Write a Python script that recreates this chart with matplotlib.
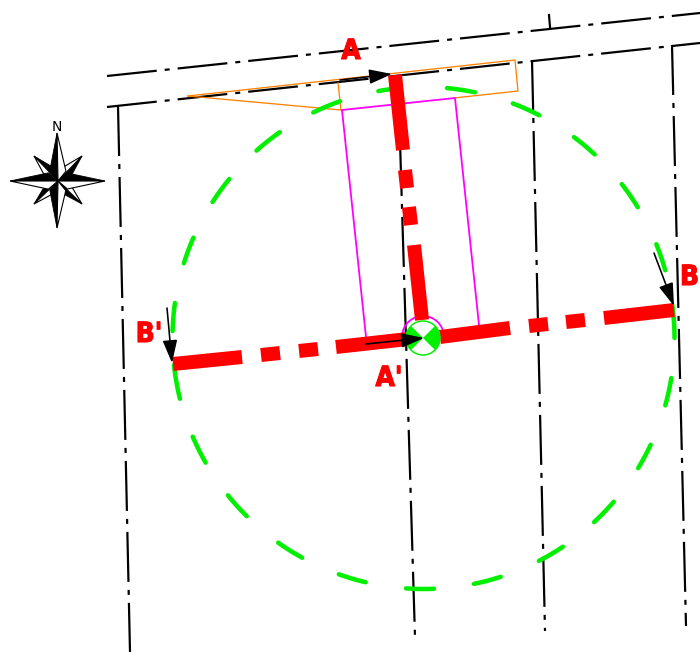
import numpy as np
import matplotlib
matplotlib.use("Agg")
import matplotlib.pyplot as plt
import matplotlib.patheffects as pe
from matplotlib.patches import Wedge, Circle, Arc, Polygon

# everything in pixels
road_lines = [
    ((107, 76), (700, 13)),
    ((107, 107), (700, 43)),
    ((118, 106), (130, 652)),
    ((398, 75), (415, 637)),
    ((532, 60), (545, 631)),
    ((672, 45), (686, 626)),
]
tick_line = ((549, 15), (550, 27))

orange_lines = [
    [(188, 96), (515, 60), (518, 91), (454, 98)],
    [(338, 83), (341, 110)],
    [(188, 96), (341, 110)],
]
magenta_lines = [
    [(366, 337), (342, 110), (455, 98), (479, 325)],
]

red_dashes = [
    ((395, 75), (403, 150)), ((405, 170), (407, 188)),
    ((409, 207), (411, 225)), ((414, 245), (422, 320)),
    ((173, 364), (242, 357)), ((261, 355), (280, 353)),
    ((299, 351), (318, 349)), ((336, 347), (408, 339)),
    ((440, 337), (510, 328)), ((529, 326), (548, 324)),
    ((566, 322), (585, 320)), ((604, 318), (674, 310)),
]

circle_center = (423.5, 338)
circle_radius = 251
green_dashes = [
    ((313, 112), (340, 101)), ((378, 89), (393, 88)), ((447, 88), (475, 92)),
    ((513, 103), (540, 114)), ((574, 137), (596, 153)), ((622, 184), (638, 207)),
    ((657, 244), (666, 270)), ((673, 305), (676, 338)), ((671, 378), (664, 405)),
    ((651, 445), (638, 468)), ((614, 502), (594, 522)), ((563, 547), (539, 561)),
    ((501, 578), (474, 584)), ((434, 589), (406, 589)), ((366, 581), (339, 574)),
    ((302, 558), (278, 543)), ((246, 517), (227, 496)), ((205, 463), (192, 437)),
    ((179, 399), (174, 365)), ((172, 331), (175, 303)), ((183, 263), (192, 237)),
    ((211, 201), (228, 178)), ((256, 150), (279, 131)),
]

arrows = [
    ((340, 80), (392, 74)),
    ((366, 344), (424, 338)),
    ((654, 253), (674, 306)),
    ((167, 308), (172, 363)),
]

labels = ["A", "A'", "B", "B'"]
label_x = [351, 389, 699, 149]
label_y = [51, 378, 277, 334]
label_ha = ["center", "center", "right", "center"]

well_x, well_y = 423, 338

star_center = (58, 181)
star_main = [(57, 133), (105, 181), (57, 228), (10, 181)]
star_diag = [(34, 156), (82, 156), (82, 204), (34, 204)]

plt.rcParams["font.family"] = ["DejaVu Sans"]
plt.rcParams["lines.scale_dashes"] = False

fig = plt.figure(figsize=(7, 6.53), dpi=100)
ax = fig.add_axes([0, 0, 1, 1])
ax.set_xlim(0, 700)
ax.set_ylim(653, 0)
ax.axis("off")

px = 0.72  # one pixel in points
dash_dot = (0, (50 * px, 8 * px, 5 * px, 8 * px))

for a, b in road_lines:
    ax.plot([a[0], b[0]], [a[1], b[1]], color="black", lw=2.2 * px,
            linestyle=dash_dot, dash_capstyle="butt", zorder=2)
ax.plot([tick_line[0][0], tick_line[1][0]], [tick_line[0][1], tick_line[1][1]],
        color="black", lw=2.2 * px, zorder=2)

for pts in orange_lines:
    xs, ys = zip(*pts)
    ax.plot(xs, ys, color="#ff8000", lw=1.3 * px, zorder=3)
for pts in magenta_lines:
    xs, ys = zip(*pts)
    ax.plot(xs, ys, color="#ff00ff", lw=1.8 * px, zorder=3)
ax.add_patch(Arc((well_x, well_y - 1), 42, 42, theta1=185, theta2=355,
                 color="#ff00ff", lw=1.8 * px, zorder=3))

for a, b in green_dashes:
    t0 = np.arctan2(a[1] - circle_center[1], a[0] - circle_center[0])
    t1 = np.arctan2(b[1] - circle_center[1], b[0] - circle_center[0])
    d = (t1 - t0 + np.pi) % (2 * np.pi) - np.pi
    tt = np.linspace(t0, t0 + d, 12)
    ax.plot(circle_center[0] + circle_radius * np.cos(tt),
            circle_center[1] + circle_radius * np.sin(tt),
            color="#00f000", lw=4.5 * px, solid_capstyle="round", zorder=4)

for a, b in red_dashes:
    ax.plot([a[0], b[0]], [a[1], b[1]], color="#ff0000", lw=14 * px,
            solid_capstyle="butt", zorder=5)

# well symbol
ax.add_patch(Circle((well_x, well_y), 17, fc="white", ec="#00f000", lw=1.5 * px, zorder=6))
ax.add_patch(Wedge((well_x, well_y), 17, 135, 225, fc="#00f000", ec="none", zorder=6))
ax.add_patch(Wedge((well_x, well_y), 17, -45, 45, fc="#00f000", ec="none", zorder=6))

for a, b in arrows:
    ax.annotate("", xy=b, xytext=a, zorder=7,
                arrowprops=dict(arrowstyle="-|>,head_length=1.0,head_width=0.32",
                                color="black", lw=1.6 * px, shrinkA=0, shrinkB=0,
                                mutation_scale=14))

for s, x, y, ha in zip(labels, label_x, label_y, label_ha):
    t = ax.text(x, y, s, color="#ff0000", fontsize=20, fontweight="bold", stretch="condensed",
                ha=ha, va="center", zorder=8)
    t.set_path_effects([pe.withStroke(linewidth=0.8, foreground="#ff0000")])

# compass star, black half then white half of every point
cx, cy = star_center
for tip in star_diag:
    vx, vy = tip[0] - cx, tip[1] - cy
    nx, ny = -vy * 0.16, vx * 0.16
    sh = (cx + vx * 0.42, cy + vy * 0.42)
    ax.add_patch(Polygon([tip, (sh[0] + nx, sh[1] + ny), (cx, cy)], fc="black", ec="black", lw=0.6, zorder=6))
    ax.add_patch(Polygon([tip, (sh[0] - nx, sh[1] - ny), (cx, cy)], fc="white", ec="black", lw=0.8, zorder=6))
for i, tip in enumerate(star_main):
    vx, vy = tip[0] - cx, tip[1] - cy
    nx, ny = -vy * 0.17, vx * 0.17
    sh = (cx + vx * 0.2, cy + vy * 0.2)
    sign = -1 if i in (0, 1) else 1
    ax.add_patch(Polygon([tip, (sh[0] + sign * nx, sh[1] + sign * ny), (cx, cy)],
                         fc="black", ec="black", lw=0.6, zorder=7))
    ax.add_patch(Polygon([tip, (sh[0] - sign * nx, sh[1] - sign * ny), (cx, cy)],
                         fc="white", ec="black", lw=0.8, zorder=7))
ax.text(57, 127, "N", color="black", fontsize=10, ha="center", va="center", zorder=8)

fig.savefig("out.png", dpi=100)
